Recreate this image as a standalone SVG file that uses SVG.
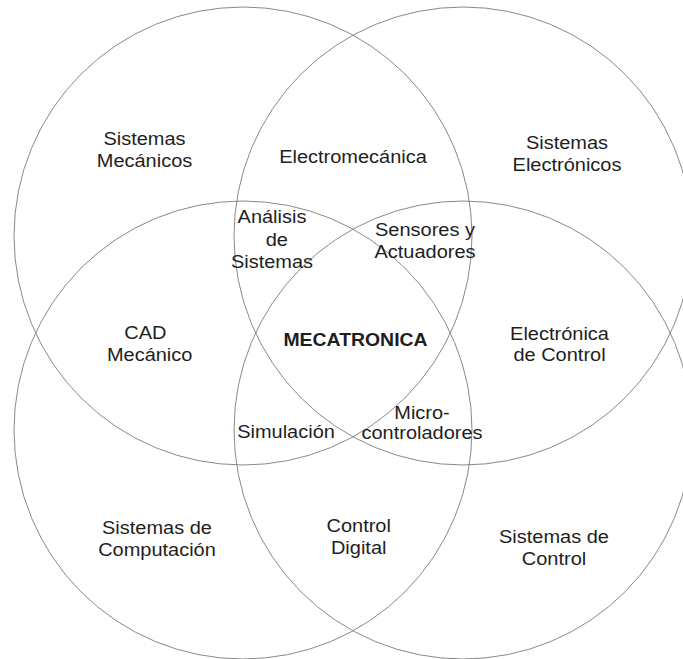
<svg xmlns="http://www.w3.org/2000/svg" width="683" height="659" viewBox="0 0 683 659">
<style>
.c{fill:none;stroke:#7a7a7a;stroke-width:0.9}
.t{font-family:"Liberation Sans",Arial,sans-serif;font-size:18.5px;fill:#1e1e1e;text-anchor:middle}
.b{font-weight:bold}
</style>
<rect width="683" height="659" fill="#ffffff"/>
<g id="circles">
<circle id="c-mec" class="c" cx="243" cy="236" r="229"/>
<circle id="c-ele" class="c" cx="463" cy="236" r="229"/>
<circle id="c-comp" class="c" cx="243" cy="430" r="229"/>
<circle id="c-ctrl" class="c" cx="463" cy="430" r="229"/>
</g>
<g id="labels">
<g id="n-sismec"><text class="t" transform="translate(144.5,0) scale(1.08,1)"><tspan x="0" y="145">Sistemas</tspan><tspan x="0" y="167">Mecánicos</tspan></text></g>
<g id="n-electromec"><text class="t" transform="translate(353,0) scale(1.08,1)" x="0" y="163">Electromecánica</text></g>
<g id="n-sisele"><text class="t" transform="translate(567,0) scale(1.08,1)"><tspan x="0" y="149.5">Sistemas</tspan><tspan x="0" y="171.5">Electrónicos</tspan></text></g>
<g id="n-analisis"><text class="t" transform="translate(272,0) scale(1.08,1)"><tspan x="0" y="223.5">Análisis</tspan><tspan x="4.5" y="246">de</tspan><tspan x="0" y="268.5">Sistemas</tspan></text></g>
<g id="n-sensores"><text class="t" transform="translate(425,0) scale(1.08,1)"><tspan x="0" y="236">Sensores y</tspan><tspan x="0" y="258">Actuadores</tspan></text></g>
<g id="n-cad"><text class="t" transform="translate(147.5,0) scale(1.08,1)"><tspan x="-2" y="339.5">CAD</tspan><tspan x="2" y="361.5">Mecánico</tspan></text></g>
<g id="n-meca"><text class="t b" transform="translate(355.5,0) scale(1.05,1)" x="0" y="346">MECATRONICA</text></g>
<g id="n-elecctrl"><text class="t" transform="translate(559.5,0) scale(1.08,1)"><tspan x="0" y="340">Electrónica</tspan><tspan x="0" y="361.5">de Control</tspan></text></g>
<g id="n-sim"><text class="t" transform="translate(286,0) scale(1.08,1)" x="0" y="438.5">Simulación</text></g>
<g id="n-micro"><text class="t" transform="translate(422,0) scale(1.08,1)"><tspan x="0" y="419">Micro-</tspan><tspan x="0" y="439.5">controladores</tspan></text></g>
<g id="n-siscomp"><text class="t" transform="translate(157,0) scale(1.08,1)"><tspan x="0" y="534.5">Sistemas de</tspan><tspan x="0" y="556.5">Computación</tspan></text></g>
<g id="n-ctrldig"><text class="t" transform="translate(358.7,0) scale(1.08,1)"><tspan x="0" y="532.5">Control</tspan><tspan x="0" y="554.5">Digital</tspan></text></g>
<g id="n-sisctrl"><text class="t" transform="translate(554,0) scale(1.08,1)"><tspan x="0" y="543.5">Sistemas de</tspan><tspan x="0" y="565">Control</tspan></text></g>
</g>
<g id="connectors"></g>
</svg>
